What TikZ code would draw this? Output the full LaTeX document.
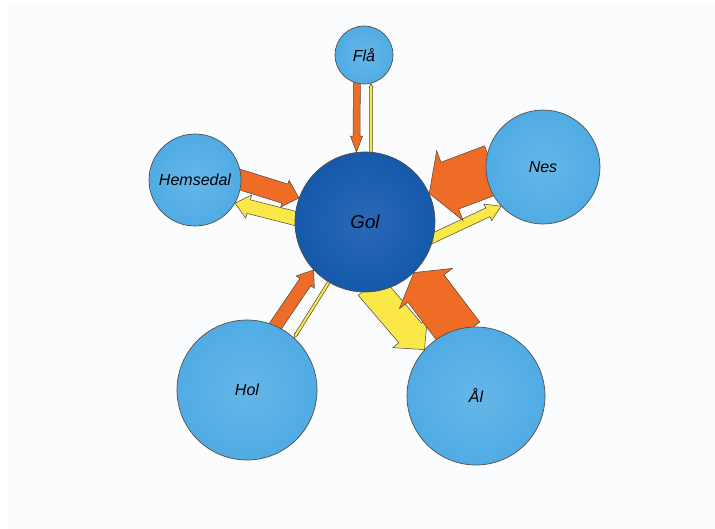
\documentclass[tikz,border=0pt]{standalone}
\usepackage{fontspec}
\setmainfont{Liberation Sans}
\usepackage{tikz}
\usetikzlibrary{calc,backgrounds}

\definecolor{townblue}{RGB}{80,172,228}
\definecolor{hubblue}{RGB}{22,92,176}
\definecolor{flowin}{RGB}{238,108,38}
\definecolor{flowout}{RGB}{250,232,72}
\definecolor{edgegray}{RGB}{85,75,65}
\definecolor{paper}{RGB}{251,252,254}

\begin{document}
\begin{tikzpicture}[
  x=0.75pt, y=-0.75pt,
  font=\itshape\fontsize{12}{14}\selectfont,
  town/.style={circle, draw=edgegray, line width=0.5pt, inner sep=0pt,
    inner color=townblue!88!white, outer color=townblue, minimum size=#1},
  hub/.style={town=#1, inner color=hubblue!92!white, outer color=hubblue!97!black},
  flow/.style n args={3}{draw=edgegray, line width=0.4pt, to path={
    ($(\tikztostart)!-6pt!(\tikztotarget)!#1!90:(\tikztotarget)$)
    -- ($(\tikztotarget)!#3!(\tikztostart)!#1!-90:(\tikztostart)$)
    -- ($(\tikztotarget)!#3!(\tikztostart)!#2!-90:(\tikztostart)$)
    -- (\tikztotarget)
    -- ($(\tikztotarget)!#3!(\tikztostart)!#2!90:(\tikztostart)$)
    -- ($(\tikztotarget)!#3!(\tikztostart)!#1!90:(\tikztostart)$)
    -- ($(\tikztostart)!-6pt!(\tikztotarget)!#1!-90:(\tikztotarget)$)
    -- cycle}},
  inflow/.style n args={3}{flow={#1}{#2}{#3}, fill=flowin},
  outflow/.style n args={3}{flow={#1}{#2}{#3}, fill=flowout}
]
\node[hub=105pt, font=\itshape\fontsize{14}{16}\selectfont] (gol) at (365,222) {Gol};
\node[town=43.5pt] (fla) at (364,55) {Flå};
\node[town=69pt] (hem) at (195,180) {Hemsedal};
\node[town=85.5pt] (nes) at (543,167) {Nes};
\node[town=105pt] (hol) at (247,390) {Hol};
\node[town=103.5pt] (al) at (476,396) {Ål};

\begin{scope}[on background layer]
\fill[white] (0,0) rectangle (715,529);
\fill[paper] (8,2) rectangle (715,529);
\draw[outflow={1.1pt}{1.5pt}{3pt}] (gol.85) to (fla.-76);
\draw[outflow={5.25pt}{9pt}{10.5pt}] (gol.177) to (hem.-30);
\draw[outflow={3.6pt}{6.8pt}{11pt}] (gol.-13) to (nes.-137);
\draw[outflow={1.1pt}{1.5pt}{3pt}] (gol.-121) to (hol.48);
\draw[outflow={11.25pt}{17pt}{16.5pt}] (gol.-82) to (al.138);
\draw[inflow={2.6pt}{4.5pt}{12pt}] (fla.-104) to (gol.97);
\draw[inflow={7.5pt}{10.5pt}{11pt}] (hem.0) to (gol.160);
\draw[inflow={18.75pt}{28pt}{16.5pt}] (nes.185) to (gol.24);
\draw[inflow={4.9pt}{8.25pt}{11pt}] (hol.66) to (gol.-137);
\draw[inflow={17pt}{25pt}{15pt}] (al.106) to (gol.-46);
\end{scope}
\end{tikzpicture}
\end{document}
